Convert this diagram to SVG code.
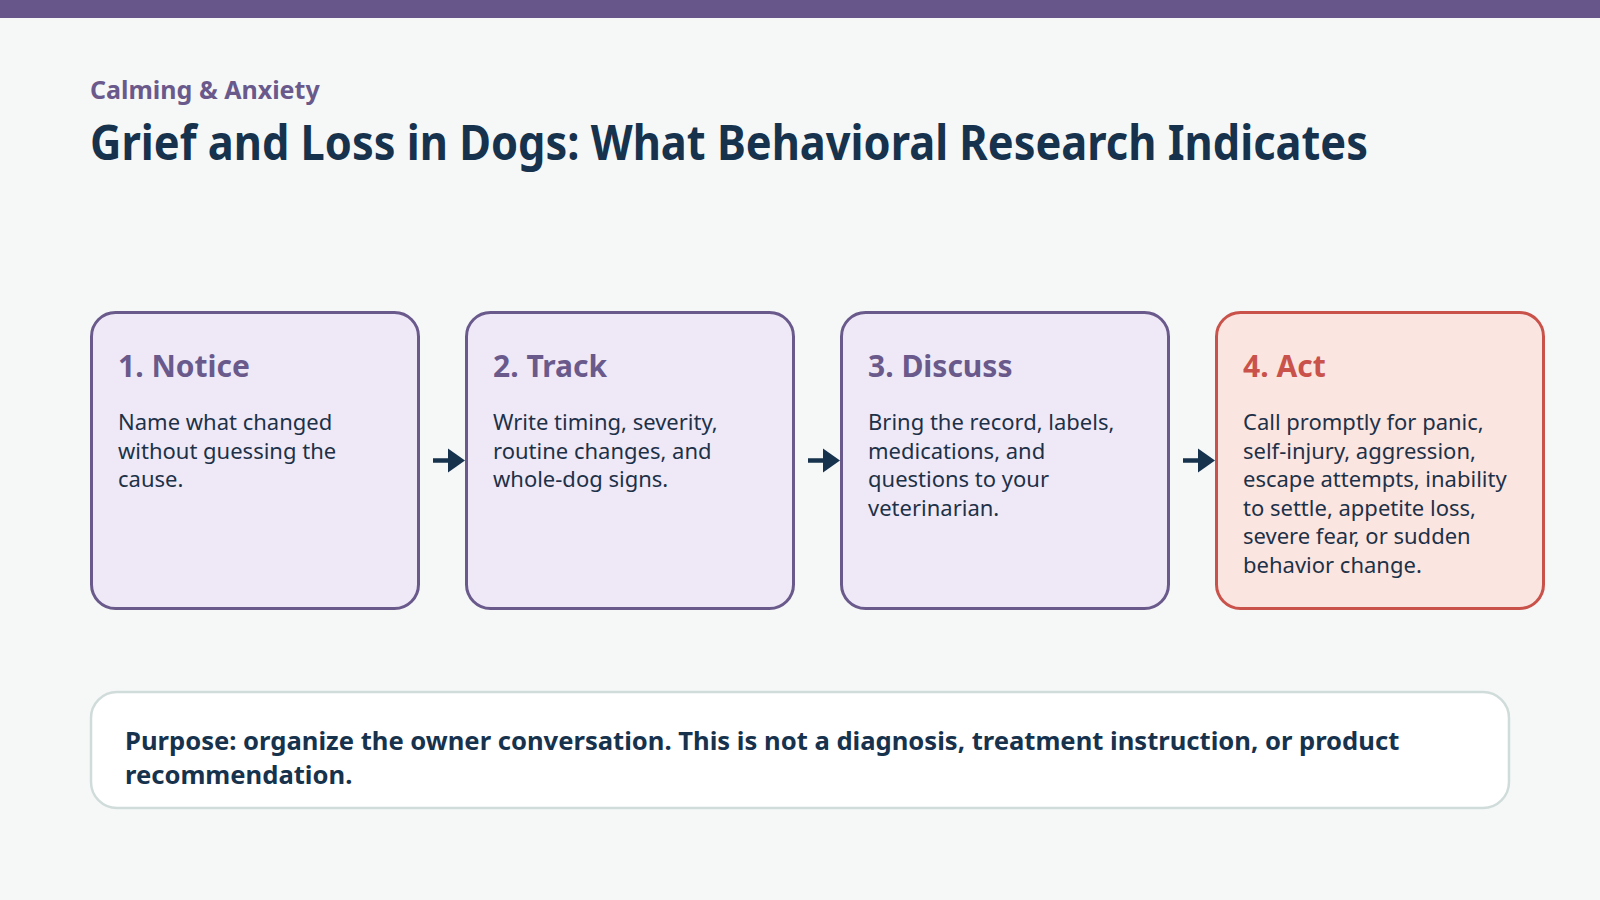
<svg xmlns="http://www.w3.org/2000/svg" width="1600" height="900" viewBox="0 0 1600 900">
<style>
.bg{fill:#f6f8f8}
.step rect{fill:#efe9f7;stroke:#6a5a8c;stroke-width:3}
.step .h{font-family:"Noto Sans","Open Sans",sans-serif;font-weight:700;font-size:30px;fill:#6a5a8c}
.step .b{font-family:"Noto Sans","Open Sans",sans-serif;font-size:22px;fill:#1d3148}
#step4 rect{fill:#fbe5e1;stroke:#c9524a}
#step4 .h{fill:#c9524a}
.conn line{stroke:#17324d;stroke-width:4.5}
.conn polygon{fill:#17324d}
</style>
<rect class="bg" x="0" y="0" width="1600" height="900"/>
<rect x="0" y="0" width="1600" height="18" fill="#675689"/>
<text x="90" y="99" font-family="Noto Sans, Open Sans, sans-serif" font-weight="700" font-size="25" fill="#6a5a8c">Calming &amp; Anxiety</text>
<text x="90" y="160" font-family="Noto Sans, Open Sans, sans-serif" font-weight="700" font-size="48" fill="#17324d" textLength="1278" lengthAdjust="spacingAndGlyphs">Grief and Loss in Dogs: What Behavioral Research Indicates</text>

<g id="step1" class="step">
<rect x="91.5" y="312.5" width="327" height="296" rx="24"/>
<text class="h" x="118" y="377">1. Notice</text>
<text class="b" x="118" y="430"><tspan x="118">Name what changed</tspan><tspan x="118" dy="28.5">without guessing the</tspan><tspan x="118" dy="28.5">cause.</tspan></text>
</g>
<g id="step2" class="step">
<rect x="466.5" y="312.5" width="327" height="296" rx="24"/>
<text class="h" x="493" y="377">2. Track</text>
<text class="b" x="493" y="430"><tspan x="493">Write timing, severity,</tspan><tspan x="493" dy="28.5">routine changes, and</tspan><tspan x="493" dy="28.5">whole-dog signs.</tspan></text>
</g>
<g id="step3" class="step">
<rect x="841.5" y="312.5" width="327" height="296" rx="24"/>
<text class="h" x="868" y="377">3. Discuss</text>
<text class="b" x="868" y="430"><tspan x="868">Bring the record, labels,</tspan><tspan x="868" dy="28.5">medications, and</tspan><tspan x="868" dy="28.5">questions to your</tspan><tspan x="868" dy="28.5">veterinarian.</tspan></text>
</g>
<g id="step4" class="step">
<rect x="1216.5" y="312.5" width="327" height="296" rx="24"/>
<text class="h" x="1243" y="377">4. Act</text>
<text class="b" x="1243" y="430"><tspan x="1243">Call promptly for panic,</tspan><tspan x="1243" dy="28.5">self-injury, aggression,</tspan><tspan x="1243" dy="28.5">escape attempts, inability</tspan><tspan x="1243" dy="28.5">to settle, appetite loss,</tspan><tspan x="1243" dy="28.5">severe fear, or sudden</tspan><tspan x="1243" dy="28.5">behavior change.</tspan></text>
</g>

<g id="connectors" class="conn">
<line x1="433" y1="460.5" x2="450" y2="460.5"/><polygon points="448,448.5 465,460.5 448,472.5"/>
<line x1="808" y1="460.5" x2="825" y2="460.5"/><polygon points="823,448.5 840,460.5 823,472.5"/>
<line x1="1183" y1="460.5" x2="1200" y2="460.5"/><polygon points="1198,448.5 1215,460.5 1198,472.5"/>
</g>

<g id="note">
<rect x="91" y="692" width="1418" height="116" rx="26" fill="#ffffff" stroke="#d0dcda" stroke-width="2.5"/>
<text font-family="Noto Sans, Open Sans, sans-serif" font-weight="700" font-size="25.6" fill="#17324d"><tspan x="125" y="750">Purpose: organize the owner conversation. This is not a diagnosis, treatment instruction, or product</tspan><tspan x="125" y="784">recommendation.</tspan></text>
</g>
</svg>
